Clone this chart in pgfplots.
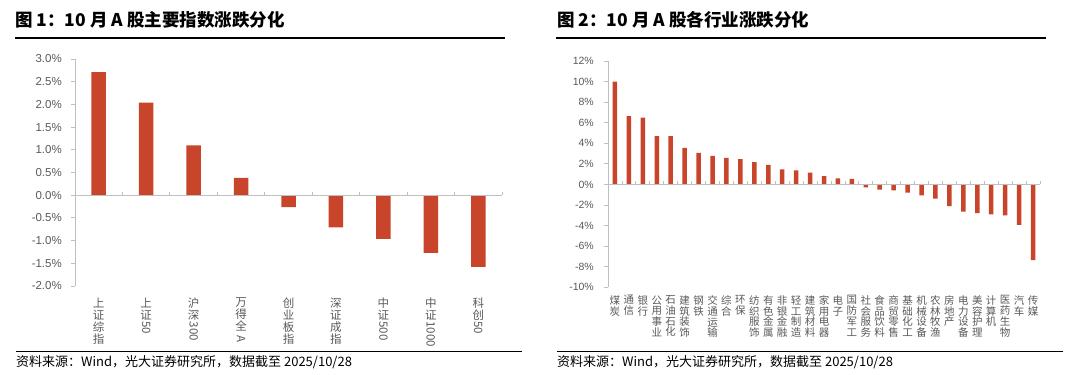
\documentclass[border=0pt]{standalone}
\usepackage{fontspec}
\usepackage{graphicx}
\usepackage{pgfplots}
\pgfplotsset{compat=1.18}
\setmainfont{Liberation Sans}
\newfontfamily\cjk{Noto Sans CJK SC}
\definecolor{barred}{HTML}{C8442A}
\definecolor{axgray}{HTML}{BFBFBF}
\definecolor{lblgray}{HTML}{595959}
\newcommand{\R}[1]{\rotatebox[origin=c]{-90}{#1}}
\begin{document}
\begin{tikzpicture}[x=1pt,y=1pt]
\path (0,0) rectangle (1080,375);
% titles
\node[anchor=west,inner sep=0pt,font=\cjk\bfseries\fontsize{17.5}{19}\selectfont] at (15,355) {图 1：10 月 A 股主要指数涨跌分化};
\node[anchor=west,inner sep=0pt,font=\cjk\bfseries\fontsize{17.5}{19}\selectfont] at (557,355) {图 2：10 月 A 股各行业涨跌分化};
\draw[line width=2pt] (15,336.7) -- (505,336.7);
\draw[line width=2pt] (556,336.7) -- (1046,336.7);
\draw[line width=1.5pt] (16,23.3) -- (522,23.3);
\draw[line width=1.5pt] (557,23.3) -- (1063,23.3);
\node[anchor=west,inner sep=0pt,font=\cjk\fontsize{13}{15}\selectfont] at (16,13) {资料来源：Wind，光大证券研究所，数据截至 2025/10/28};
\node[anchor=west,inner sep=0pt,font=\cjk\fontsize{13}{15}\selectfont] at (557,13) {资料来源：Wind，光大证券研究所，数据截至 2025/10/28};

% left chart
\begin{axis}[
  at={(75pt,89pt)}, anchor=south west,
  scale only axis, width=427pt, height=227pt,
  xmin=-0.5, xmax=8.5, ymin=-2, ymax=3,
  axis lines*=left,
  x axis line style={draw=none},
  y axis line style={draw=axgray, line width=0.8pt},
  xtick=data,
  xtick style={draw=none},
  xticklabels={{上\\证\\综\\指},{上\\证\\\R{50}},{沪\\深\\\R{300}},{万\\得\\全\\\R{A}},{创\\业\\板\\指},{深\\证\\成\\指},{中\\证\\\R{500}},{中\\证\\\R{1000}},{科\\创\\\R{50}}},
  xticklabel style={font=\cjk\fontsize{11.5}{12}\selectfont, text=lblgray, align=center, anchor=north, inner sep=0pt, yshift=-8pt},
  ytick={-2,-1.5,...,3},
  yticklabels={-2.0\%,-1.5\%,-1.0\%,-0.5\%,0.0\%,0.5\%,1.0\%,1.5\%,2.0\%,2.5\%,3.0\%},
  yticklabel style={font=\fontsize{11.5}{13}\selectfont, text=lblgray, inner sep=0pt, xshift=-9pt},
  ytick style={draw=axgray, line width=0.8pt},
  tick align=outside, major tick length=4pt,
  ybar, bar width=14.5pt, bar shift=0pt,
  clip=false,
]
\addplot[fill=barred, draw=none] coordinates {(0,2.71) (1,2.04) (2,1.10) (3,0.38) (4,-0.26) (5,-0.71) (6,-0.96) (7,-1.27) (8,-1.58)};
\draw[axgray, line width=1pt] (axis cs:-0.5,0) -- (axis cs:8.5,0);
\pgfplotsinvokeforeach{0.5,1.5,2.5,3.5,4.5,5.5,6.5,7.5,8.5}{\draw[axgray, line width=0.8pt] (axis cs:#1,0) -- ([yshift=3pt]axis cs:#1,0);}
\end{axis}

% right chart
\begin{axis}[
  at={(608pt,87.7pt)}, anchor=south west,
  scale only axis, width=432pt, height=226.3pt,
  xmin=-0.5, xmax=30.5, ymin=-10, ymax=12,
  axis lines*=left,
  x axis line style={draw=none},
  y axis line style={draw=axgray, line width=0.8pt},
  xtick=data,
  xtick style={draw=none},
  xticklabels={{煤\\炭},{通\\信},{银\\行},{公\\用\\事\\业},{石\\油\\石\\化},{建\\筑\\装\\饰},{钢\\铁},{交\\通\\运\\输},{综\\合},{环\\保},{纺\\织\\服\\饰},{有\\色\\金\\属},{非\\银\\金\\融},{轻\\工\\制\\造},{建\\筑\\材\\料},{家\\用\\电\\器},{电\\子},{国\\防\\军\\工},{社\\会\\服\\务},{食\\品\\饮\\料},{商\\贸\\零\\售},{基\\础\\化\\工},{机\\械\\设\\备},{农\\林\\牧\\渔},{房\\地\\产},{电\\力\\设\\备},{美\\容\\护\\理},{计\\算\\机},{医\\药\\生\\物},{汽\\车},{传\\媒}},
  xticklabel style={font=\cjk\fontsize{10.5}{10.8}\selectfont, text=lblgray, align=center, anchor=north, inner sep=0pt, yshift=-4pt},
  ytick={-10,-8,...,12},
  yticklabels={-10\%,-8\%,-6\%,-4\%,-2\%,0\%,2\%,4\%,6\%,8\%,10\%,12\%},
  yticklabel style={font=\fontsize{10.5}{12}\selectfont, text=lblgray, inner sep=0pt, xshift=-10pt},
  ytick style={draw=axgray, line width=0.8pt},
  tick align=outside, major tick length=4pt,
  ybar, bar width=4.5pt, bar shift=0pt,
  clip=false,
]
\addplot[fill=barred, draw=none] coordinates {(0,10.0) (1,6.63) (2,6.5) (3,4.69) (4,4.69) (5,3.56) (6,3.07) (7,2.78) (8,2.59) (9,2.46) (10,2.17) (11,1.91) (12,1.46) (13,1.36) (14,1.15) (15,0.8) (16,0.6) (17,0.53) (18,-0.29) (19,-0.51) (20,-0.58) (21,-0.8) (22,-1.06) (23,-1.39) (24,-2.1) (25,-2.65) (26,-2.78) (27,-2.91) (28,-3.0) (29,-3.94) (30,-7.35)};
\draw[axgray, line width=1pt] (axis cs:-0.5,0) -- (axis cs:30.5,0);
\pgfplotsinvokeforeach{0.5,1.5,2.5,3.5,4.5,5.5,6.5,7.5,8.5,9.5,10.5,11.5,12.5,13.5,14.5,15.5,16.5,17.5,18.5,19.5,20.5,21.5,22.5,23.5,24.5,25.5,26.5,27.5,28.5,29.5,30.5}{\draw[axgray, line width=0.8pt] (axis cs:#1,0) -- ([yshift=3pt]axis cs:#1,0);}
\end{axis}
\end{tikzpicture}
\end{document}
